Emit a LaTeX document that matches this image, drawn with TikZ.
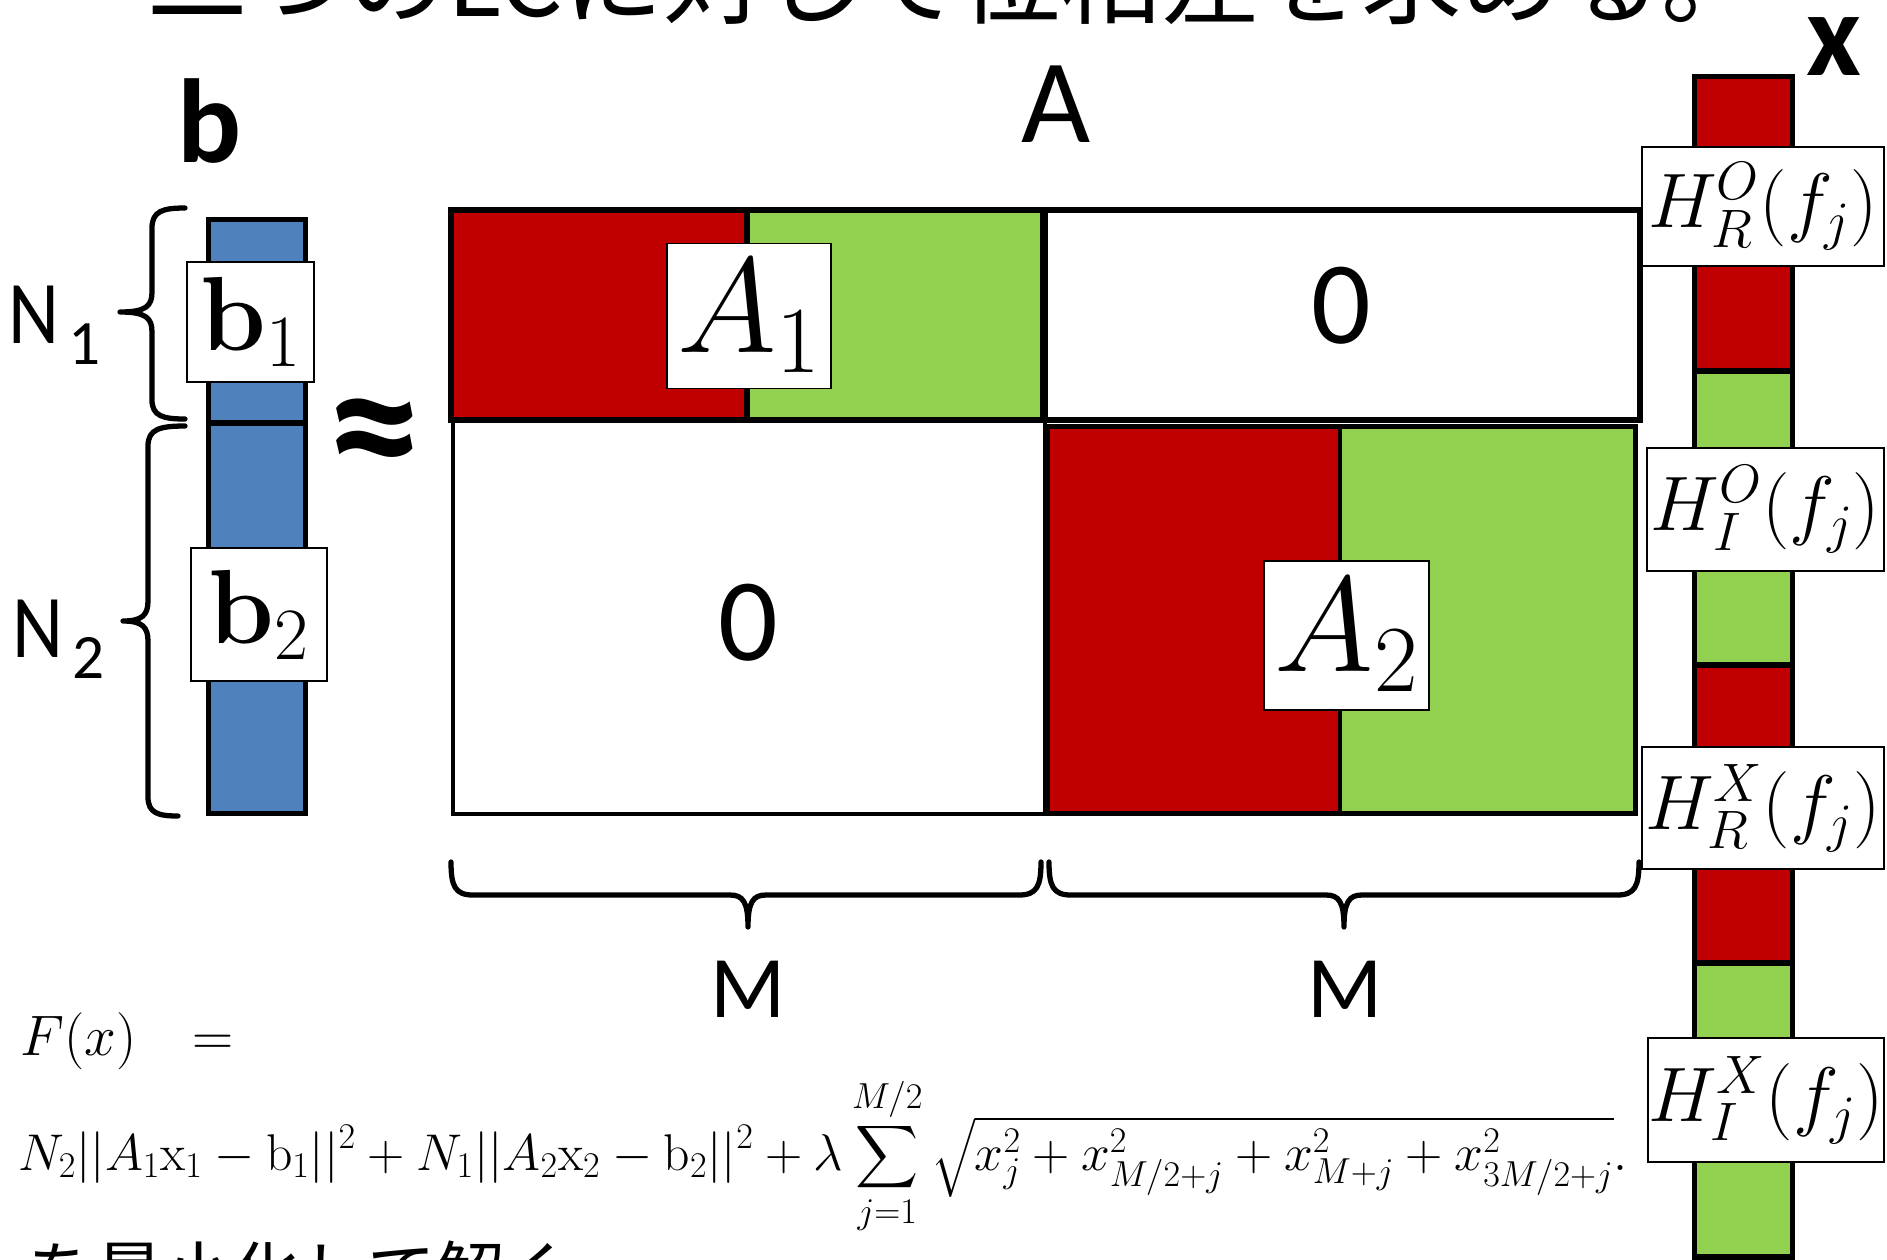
\RequirePackage{fix-cm}
\documentclass[tikz,border=0pt]{standalone}
\usepackage{amsmath}
\usepackage{exscale}
\usepackage[no-math]{fontspec}
\setmainfont{Carlito}
\newfontfamily\jpfont{Noto Sans CJK JP}
\definecolor{pptred}{HTML}{C00000}
\definecolor{pptgreen}{HTML}{92D050}
\definecolor{pptblue}{HTML}{4F81BD}
\newcommand\fsz[1]{\fontsize{#1}{#1}\selectfont}
\newcommand\hbrace[3]{%
 \draw[brc] (#1,862) .. controls (#1,886) and ({#1+4},895) .. ({#1+22},895) -- ({#3-18},895) .. controls ({#3-5},895) and (#3,902) .. (#3,927) .. controls (#3,902) and ({#3+5},895) .. ({#3+18},895) -- ({#2-22},895) .. controls ({#2-4},895) and (#2,886) .. (#2,862);}
\begin{document}
\begin{tikzpicture}[x=0.02cm,y=-0.02cm,
  edge/.style={draw=black,line width=3pt},
  lbl/.style={draw=black,fill=white,line width=1.1pt,inner sep=0pt},
  brc/.style={draw=black,line width=3pt,line cap=round,line join=round},
  txt/.style={inner sep=0pt}]
\useasboundingbox (0,0) rectangle (1887,1259);
\clip (0,0) rectangle (1887,1259);
\fill[white] (0,0) rectangle (1887,1259);
% texts top / bottom
\node[txt,anchor=base west] (title) at (147,16) {\jpfont\fsz{57}二つのLCに対して位相差を求める。};
\node[txt,anchor=base west] (solve) at (27,1298) {\jpfont\fsz{39}を最小化して解く};
% b column
\filldraw[fill=pptblue,edge] (208.5,219.5) rectangle (305.5,423);
\filldraw[fill=pptblue,edge] (208.5,423) rectangle (305.5,813.5);
\node[txt,anchor=base] (blab) at (210,162) {\fsz{68}\bfseries b};
\node[lbl,minimum width=127*0.02cm,minimum height=120*0.02cm] (b1) at (250.5,322) {\fsz{60}$\mathbf{b}_1$};
\node[lbl,minimum width=136*0.02cm,minimum height=133*0.02cm] (b2) at (259,614.5) {\fsz{60}$\mathbf{b}_2$};
% N braces
\draw[brc] (185,208) .. controls (163,208) and (152,211) .. (152,228) -- (152,292) .. controls (152,306) and (146,312) .. (120,312) .. controls (146,312) and (152,318) .. (152,332) -- (152,400) .. controls (152,416) and (163,419) .. (185,419);
\draw[brc] (185,426) .. controls (160,426) and (148,429) .. (148,446) -- (148,601) .. controls (148,615) and (142,621) .. (123,621) .. controls (142,621) and (148,627) .. (148,641) -- (148,797) .. controls (148,813) and (158,816) .. (178,816);
\node[txt,anchor=base west] (N1) at (8,343) {\scalebox{0.88}[1]{\fsz{51}N}\hspace{5pt}\raisebox{-12.5pt}{\fsz{36}1}};
\node[txt,anchor=base west] (N2) at (12,657) {\scalebox{0.88}[1]{\fsz{51}N}\hspace{5pt}\raisebox{-12.5pt}{\fsz{36}2}};
\node[txt] (approx) at (375,444) {\fsz{108}\bfseries ≈};
% matrix A
\node[txt,anchor=base] (Alab) at (1056,142) {\fsz{68}A};
\draw[line width=2pt] (453,420) rectangle (1045,814);
\fill[pptred] (451,210) rectangle (747,420);
\fill[pptgreen] (747,210) rectangle (1043,420);
\draw[edge] (451,210) rectangle (1043,420);
\draw[edge] (747,210) -- (747,420);
\filldraw[fill=white,edge] (1045,210) rectangle (1640,420);
\fill[pptred] (1047.5,426.5) rectangle (1340,813.5);
\fill[pptgreen] (1340,426.5) rectangle (1635.5,813.5);
\draw[edge] (1047.5,426.5) rectangle (1635.5,813.5);
\draw[line width=2.5pt] (1340,426.5) -- (1340,813.5);
\node[txt] (z1) at (1341,306) {\fsz{67}0};
\node[txt] (z2) at (748,623) {\fsz{67}0};
\node[lbl,minimum width=164*0.02cm,minimum height=145*0.02cm] (A1) at (749,316) {\fsz{77}$A_1$};
\node[lbl,minimum width=165*0.02cm,minimum height=149*0.02cm] (A2) at (1346.5,635.5) {\fsz{77}$A_2$};
% M braces
\hbrace{451}{1041}{748}
\hbrace{1049}{1639}{1344}
\node[txt,anchor=base] (M1) at (748,1017) {\fsz{50}M};
\node[txt,anchor=base] (M2) at (1345,1017) {\fsz{50}M};
% x column
\fill[pptred] (1694.5,76.5) rectangle (1792.5,371);
\fill[pptgreen] (1694.5,371) rectangle (1792.5,665);
\fill[pptred] (1694.5,665) rectangle (1792.5,963);
\fill[pptgreen] (1694.5,963) rectangle (1792.5,1257);
\draw[edge] (1694.5,76.5) rectangle (1792.5,1257);
\draw[edge] (1694.5,371) -- (1792.5,371);
\draw[edge] (1694.5,665) -- (1792.5,665);
\draw[edge] (1694.5,963) -- (1792.5,963);
\node[txt,anchor=base] (xlab) at (1834,75) {\fsz{68}\bfseries x};
\node[lbl,minimum width=242*0.02cm,minimum height=119*0.02cm] (HRO) at (1763,206.5) {\fsz{44}$H_R^O(f_j)$};
\node[lbl,minimum width=237*0.02cm,minimum height=123*0.02cm] (HIO) at (1765.5,509.5) {\fsz{44}$H_I^O(f_j)$};
\node[lbl,minimum width=242*0.02cm,minimum height=122*0.02cm] (HRX) at (1763,808) {\fsz{44}$H_R^X(f_j)$};
\node[lbl,minimum width=236*0.02cm,minimum height=124*0.02cm] (HIX) at (1766,1100) {\fsz{44}$H_I^X(f_j)$};
% equation
\node[txt,anchor=base west] (Fx) at (20,1055) {\fsz{32.5}$F(x)$\hspace{32pt}$=$};
\node[txt,anchor=base west] (Feq) at (18,1170) {\fsz{29.4}$\displaystyle N_2||A_1\mathrm{x}_1-\mathrm{b}_1||^2+N_1||A_2\mathrm{x}_2-\mathrm{b}_2||^2+\lambda\sum_{j=1}^{M/2}\sqrt{x_j^2+x_{M/2+j}^2+x_{M+j}^2+x_{3M/2+j}^2}.$};
\end{tikzpicture}
\end{document}
